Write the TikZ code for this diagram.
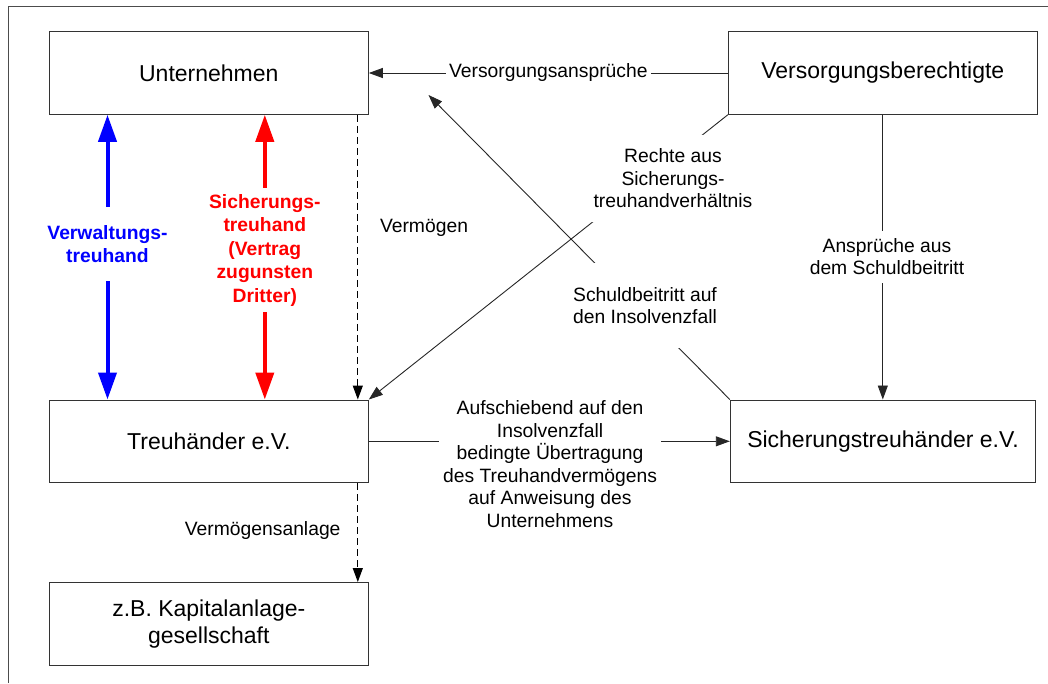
\documentclass[tikz,border=0pt]{standalone}
\usepackage{fontspec}
\setmainfont{Liberation Sans}
\usetikzlibrary{arrows.meta}
\definecolor{pureblue}{RGB}{0,0,255}
\definecolor{purered}{RGB}{255,0,0}
\begin{document}
\begin{tikzpicture}[x=1pt,y=-1pt,
  box/.style={draw=black!80, line width=1pt, fill=white, minimum width=319pt, minimum height=82.6pt,
    font=\fontsize{23}{26.5}\selectfont, align=center, inner sep=0pt},
  lbl/.style={font=\fontsize{19.3}{22.5}\selectfont, align=center, inner sep=2pt},
  wlbl/.style={lbl, fill=white},
  blbl/.style={font=\fontsize{19.3}{23.5}\selectfont\bfseries, align=center, inner sep=0pt, fill=white},
  conn/.style={draw=black!85, line width=0.9pt},
  tip/.style={-{Triangle[length=14pt,width=10pt]}},
  dashconn/.style={draw=black, line width=1.2pt, dash pattern=on 7pt off 4pt, tip},
  bigarr/.style={line width=4pt, {Triangle[length=27pt,width=18pt]}-{Triangle[length=27pt,width=18pt]}},
  frameline/.style={draw=black!70, line width=1pt}
]
\useasboundingbox (0,0) rectangle (1048,683);
\draw[frameline] (8,683) -- (8,6) -- (1048,6);

% boxes
\node[box] (U) at (208.8,73) {Unternehmen};
\node[box, minimum width=309pt] (V) at (882.8,73) {Versorgungsberechtigte};
\node[box] (T) at (208.8,441.3) {Treuhänder e.V.};
\node[box, minimum width=305.4pt] (S) at (883,441.3) {Sicherungstreuhänder e.V.};
\node[box] (K) at (208.8,623.8) {z.B. Kapitalanlage-\\gesellschaft};

% Versorgungsansprüche
\draw[conn, tip] (V.west) -- node[wlbl, minimum width=205pt] (la) {Versorgungsansprüche} (U.east);

% blue and red double arrows
\draw[bigarr, pureblue] ([xshift=58.7pt]U.south west) --
  node[pos=0.455, blbl, text=pureblue, minimum height=74pt] (lb) {Verwaltungs-\\treuhand}
  ([xshift=58.7pt]T.north west);
\draw[bigarr, purered] ([xshift=216pt]U.south west) --
  node[pos=0.476, blbl, text=purered, minimum height=124pt] (lr) {Sicherungs-\\treuhand\\(Vertrag\\zugunsten\\Dritter)}
  ([xshift=216pt]T.north west);

% dashed Vermögen
\draw[dashconn] ([xshift=-11pt]U.south east) -- ([xshift=-11pt]T.north east);
\node[lbl] (lv) at (424,228) {Vermögen};
\draw[dashconn] ([xshift=-11pt]T.south east) -- ([xshift=-11pt]K.north east);
\node[lbl] (lva) at (262.7,530) {Vermögensanlage};

% diagonal Rechte aus Sicherungstreuhandverhältnis
\draw[conn, tip] (V.south west) -- (T.north east);
\node[wlbl, minimum height=87pt, minimum width=166pt] (lre) at (673,178.5) {Rechte aus\\Sicherungs-\\treuhandverhältnis};

% diagonal Schuldbeitritt
\coordinate (cu) at (428.5,95);
\draw[conn, tip] (S.north west) -- (cu);
\node[wlbl, minimum height=85pt, minimum width=150pt] (ls) at (645,305.5) {Schuldbeitritt auf\\den Insolvenzfall};

% vertical Ansprüche
\draw[conn, tip] (V.south) -- (V.south |- S.north);
\node[wlbl, minimum height=52pt] (lan) at (887,256.5) {Ansprüche aus\\dem Schuldbeitritt};

% horizontal Übertragung
\draw[conn, tip] (T.east) -- (S.west);
\node[wlbl, minimum width=222pt] (lu) at (550,464) {Aufschiebend auf den\\Insolvenzfall\\bedingte Übertragung\\des Treuhandvermögens\\auf Anweisung des\\Unternehmens};
\end{tikzpicture}
\end{document}
